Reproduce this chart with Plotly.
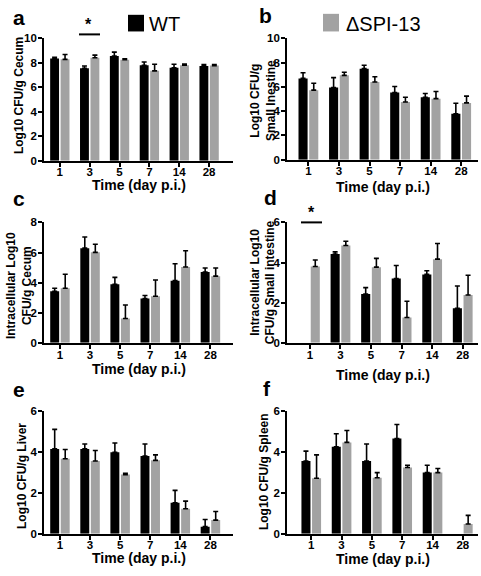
import plotly.graph_objects as go

W, H = 481, 576

days = ["1", "3", "5", "7", "14", "28"]

a_wt = [8.35, 7.55, 8.55, 7.8, 7.6, 7.74]
a_wt_err = [0.1, 0.19, 0.32, 0.26, 0.28, 0.11]
a_ko = [8.28, 8.41, 8.25, 7.34, 7.8, 7.77]
a_ko_err = [0.4, 0.22, 0.08, 0.54, 0.1, 0.08]

b_wt = [6.7, 5.95, 7.5, 5.54, 5.14, 3.78]
b_wt_err = [0.46, 0.81, 0.28, 0.49, 0.32, 0.87]
b_ko = [5.73, 6.95, 6.4, 4.76, 5.03, 4.68]
b_ko_err = [0.57, 0.25, 0.44, 0.38, 0.59, 0.56]

c_wt = [3.42, 6.29, 3.89, 2.94, 4.13, 4.71]
c_wt_err = [0.21, 0.74, 0.46, 0.2, 1.12, 0.26]
c_ko = [3.63, 6.01, 1.62, 3.09, 5.04, 4.43]
c_ko_err = [0.93, 0.54, 0.89, 1.08, 1.08, 0.54]

d_wt = [None, 4.42, 2.43, 3.2, 3.41, 1.72]
d_wt_err = [0, 0.11, 0.32, 0.65, 0.18, 1.11]
d_ko = [3.8, 4.85, 3.77, 1.26, 4.17, 2.38]
d_ko_err = [0.33, 0.21, 0.44, 0.81, 0.78, 0.99]

e_wt = [4.16, 4.16, 4.0, 3.81, 1.52, 0.35]
e_wt_err = [0.96, 0.24, 0.45, 0.59, 0.61, 0.35]
e_ko = [3.68, 3.57, 2.9, 3.6, 1.23, 0.67]
e_ko_err = [0.45, 0.51, 0.06, 0.27, 0.37, 0.42]

f_wt = [3.57, 4.26, 3.57, 4.67, 3.0, None]
f_wt_err = [0.48, 0.64, 0.83, 0.69, 0.36, 0]
f_ko = [2.72, 4.48, 2.75, 3.25, 3.0, 0.48]
f_ko_err = [1.15, 0.58, 0.25, 0.11, 0.2, 0.42]

FONT = "Liberation Sans, Arial, sans-serif"
BLACK = "#000000"
GRAY = "#a2a2a2"

panels = [
    # letter, wt, wt_err, ko, ko_err, ymax, x px, y px (top,bottom), xrange, ytitle, ytitle pos, xtitle y
    ("a", a_wt, a_wt_err, a_ko, a_ko_err, 10, (44, 233), (33, 158), (-0.53, 5.8),
     "Log10 CFU/g Cecum", (19, 92), 183),
    ("b", b_wt, b_wt_err, b_ko, b_ko_err, 10, (287, 478), (33, 157), (-0.7, 5.55),
     "Log10 CFU/g<br>Small Inestine", (263, 97), 185),
    ("c", c_wt, c_wt_err, c_ko, c_ko_err, 8, (44, 233), (221, 344), (-0.53, 5.75),
     "Intracellular Log10<br>CFU/g Cecum", (19, 286), 371),
    ("d", d_wt, d_wt_err, d_ko, d_ko_err, 6, (287, 478), (221, 344), (-0.75, 5.5),
     "Intracellular Log10<br>CFU/g Small intestine", (263, 282), 377),
    ("e", e_wt, e_wt_err, e_ko, e_ko_err, 6, (44, 233), (414, 539), (-0.53, 5.75),
     "Log10 CFU/g Liver", (22, 480), 564),
    ("f", f_wt, f_wt_err, f_ko, f_ko_err, 6, (287, 478), (414, 539), (-0.8, 5.5),
     "Log10 CFU/g Spleen", (264, 476), 565),
]

letter_pos = {"a": (19, 12), "b": (265, 10), "c": (19, 197), "d": (270, 196),
              "e": (19, 392), "f": (267, 391)}

fig = go.Figure()
annotations = []
shapes = []


def px(x):
    return x / W


def py(y):
    return 1 - y / H


xs = list(range(len(days)))

for i, (letter, wt, wte, ko, koe, ymax, xp, yp, xr, ytitle, ytpos, xty) in enumerate(panels):
    n = i + 1
    xa = "x" if n == 1 else f"x{n}"
    ya = "y" if n == 1 else f"y{n}"
    fig.add_trace(go.Bar(
        x=xs, y=wt, name="WT", marker=dict(color=BLACK, line=dict(width=0)),
        error_y=dict(type="data", symmetric=False, array=wte, arrayminus=[0] * 6,
                     color=BLACK, thickness=1.6, width=2.5),
        xaxis=xa, yaxis=ya, showlegend=False, offsetgroup="wt"))
    fig.add_trace(go.Bar(
        x=xs, y=ko, name="ΔSPI-13", marker=dict(color=GRAY, line=dict(width=0)),
        error_y=dict(type="data", symmetric=False, array=koe, arrayminus=[0] * 6,
                     color=BLACK, thickness=1.6, width=2.5),
        xaxis=xa, yaxis=ya, showlegend=False, offsetgroup="ko"))
    xkey = "xaxis" if n == 1 else f"xaxis{n}"
    ykey = "yaxis" if n == 1 else f"yaxis{n}"
    fig.update_layout(**{
        xkey: dict(domain=[px(xp[0]), px(xp[1])], anchor=ya, range=list(xr),
                   tickmode="array", tickvals=xs, ticktext=days,
                   showline=True, linecolor=BLACK, linewidth=1.8,
                   ticks="outside", ticklen=4, tickwidth=1.5, tickcolor=BLACK,
                   ticklabelstandoff=-4,
                   showgrid=False, zeroline=False,
                   tickfont=dict(family=FONT, size=11.5, color=BLACK, weight="bold")),
        ykey: dict(domain=[py(yp[1]), py(yp[0])], anchor=xa, range=[0, ymax],
                   dtick=2, tick0=0,
                   showline=True, linecolor=BLACK, linewidth=1.8,
                   ticks="outside", ticklen=4, tickwidth=1.5, tickcolor=BLACK,
                   ticklabelstandoff=-1,
                   showgrid=False, zeroline=False,
                   tickfont=dict(family=FONT, size=11.5, color=BLACK, weight="bold")),
    })
    annotations.append(dict(text=ytitle, x=px(ytpos[0]), y=py(ytpos[1]), xref="paper",
                            yref="paper", textangle=-90, showarrow=False,
                            xanchor="center", yanchor="middle",
                            font=dict(family=FONT, size=12, color=BLACK, weight="bold")))
    annotations.append(dict(text="Time (day p.i.)", x=px((xp[0] + xp[1]) / 2), y=py(xty),
                            xref="paper", yref="paper", showarrow=False,
                            xanchor="center", yanchor="middle",
                            font=dict(family=FONT, size=14, color=BLACK, weight="bold")))
    lx, ly = letter_pos[letter]
    annotations.append(dict(text=letter, x=px(lx), y=py(ly), xref="paper", yref="paper",
                            showarrow=False, xanchor="center", yanchor="middle",
                            font=dict(family=FONT, size=21, color=BLACK, weight="bold")))

# significance markers
for (x0, x1, yl, ax, ay) in [(79, 100, 29, 88, 19), (301, 322, 221, 311, 211)]:
    shapes.append(dict(type="line", xref="paper", yref="paper", x0=px(x0), x1=px(x1),
                       y0=py(yl), y1=py(yl), line=dict(color=BLACK, width=2)))
    annotations.append(dict(text="*", x=px(ax), y=py(ay), xref="paper", yref="paper",
                            showarrow=False, xanchor="center", yanchor="middle",
                            font=dict(family=FONT, size=16, color=BLACK, weight="bold")))

# legend keys
legend_items = [("WT", BLACK, (128, 9, 144, 26), 147), ("ΔSPI-13", GRAY, (323, 8, 339, 26), 344)]
for label, col, (x0, y0, x1, y1), tx in legend_items:
    shapes.append(dict(type="rect", xref="paper", yref="paper", x0=px(x0), x1=px(x1),
                       y0=py(y1), y1=py(y0), fillcolor=col, line=dict(width=0)))
    annotations.append(dict(text=label, x=px(tx), y=py((y0 + y1) / 2 + 1), xref="paper",
                            yref="paper", showarrow=False, xanchor="left", yanchor="middle",
                            font=dict(family=FONT, size=20, color=BLACK)))

fig.update_layout(
    width=W, height=H, margin=dict(l=0, r=0, t=0, b=0),
    paper_bgcolor="white", plot_bgcolor="white",
    barmode="group", bargap=0.3, bargroupgap=0.15,
    annotations=annotations, shapes=shapes, showlegend=False,
)

fig.write_html("out.html", config={"displayModeBar": False},
               post_script="document.body.style.margin='0';document.body.style.padding='0';")
